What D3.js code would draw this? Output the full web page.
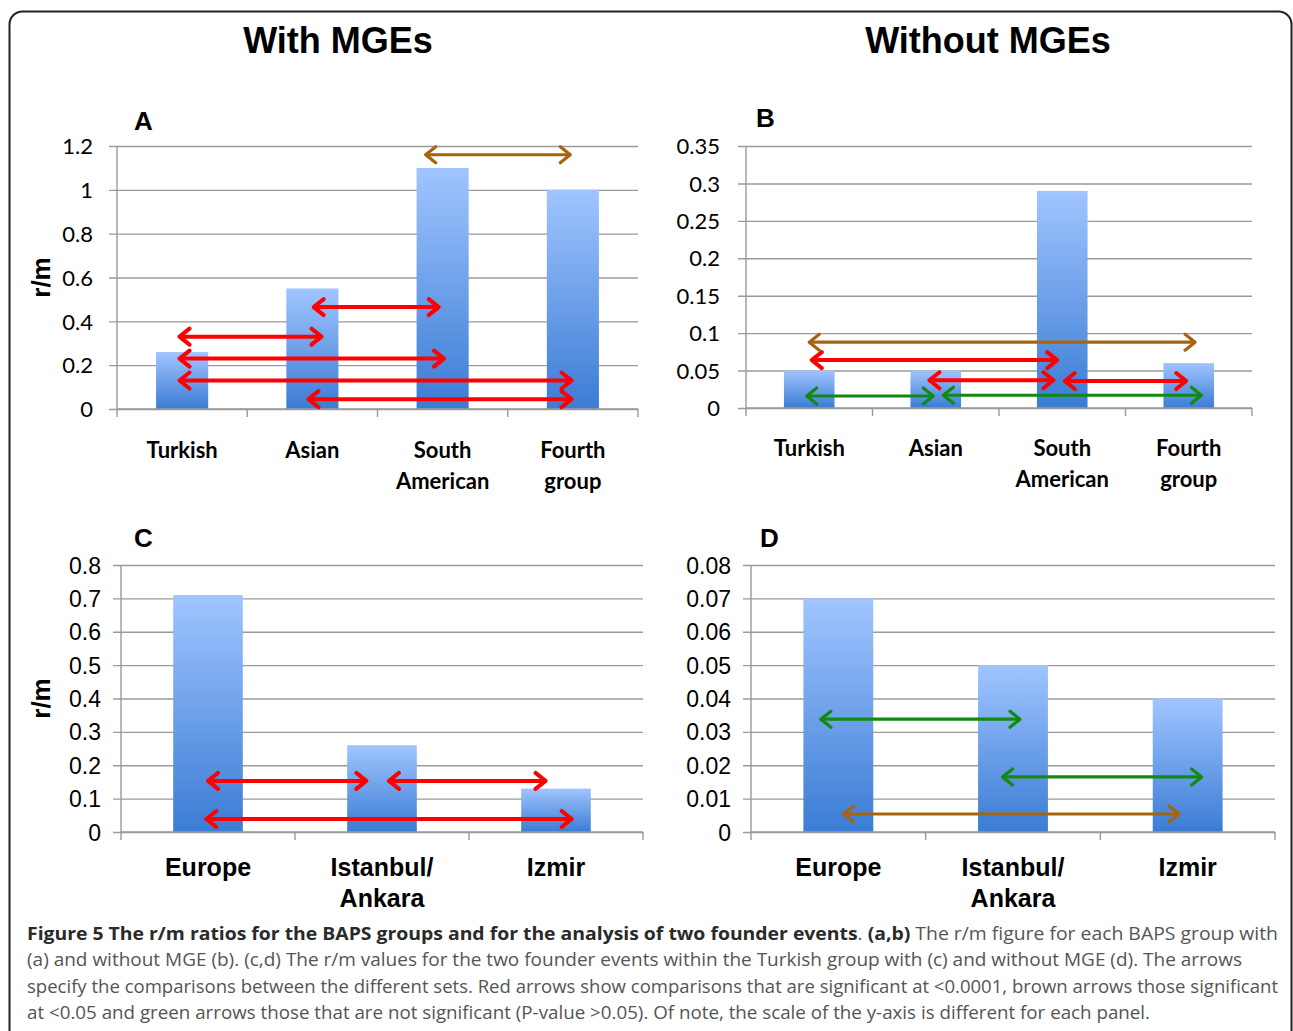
<!DOCTYPE html>
<html>
<head>
<meta charset="utf-8">
<script src="https://cdn.jsdelivr.net/npm/d3@7"></script>
<style>
  body { margin: 0; background: #fff; }
  svg { display: block; }
</style>
</head>
<body>
<script>
// ---- data ----
const groupsAB = ["Turkish", "Asian", "South American", "Fourth group"];
const labelsAB = [["Turkish"], ["Asian"], ["South", "American"], ["Fourth", "group"]];
const valuesA = [0.26, 0.55, 1.1, 1.0];
const valuesB = [0.05, 0.05, 0.29, 0.06];
const ticksA = [0, 0.2, 0.4, 0.6, 0.8, 1, 1.2];
const ticksB = [0, 0.05, 0.1, 0.15, 0.2, 0.25, 0.3, 0.35];

const groupsCD = ["Europe", "Istanbul/ Ankara", "Izmir"];
const labelsCD = [["Europe"], ["Istanbul/", "Ankara"], ["Izmir"]];
const valuesC = [0.71, 0.26, 0.13];
const valuesD = [0.07, 0.05, 0.04];
const ticksC = [0, 0.1, 0.2, 0.3, 0.4, 0.5, 0.6, 0.7, 0.8];
const ticksD = [0, 0.01, 0.02, 0.03, 0.04, 0.05, 0.06, 0.07, 0.08];

// comparison arrows: from/to in category units, level in r/m units
const arrowsA = [
  { from: 1.01, to: 1.97, level: 0.465, sig: "p<0.0001" },
  { from: -0.02, to: 1.07, level: 0.33, sig: "p<0.0001" },
  { from: -0.02, to: 2.01, level: 0.23, sig: "p<0.0001" },
  { from: -0.02, to: 2.99, level: 0.13, sig: "p<0.0001" },
  { from: 0.97, to: 2.99, level: 0.045, sig: "p<0.0001" },
  { from: 1.87, to: 2.98, level: 1.16, sig: "p<0.05" }
];
const arrowsB = [
  { from: 0, to: 3.05, level: 0.088, sig: "p<0.05" },
  { from: 0.02, to: 1.96, level: 0.064, sig: "p<0.0001" },
  { from: 0.95, to: 1.93, level: 0.037, sig: "p<0.0001" },
  { from: 2.02, to: 2.98, level: 0.036, sig: "p<0.0001" },
  { from: -0.02, to: 0.98, level: 0.016, sig: "ns" },
  { from: 1.06, to: 3.1, level: 0.017, sig: "ns" }
];
const arrowsC = [
  { from: 0, to: 0.91, level: 0.153, sig: "p<0.0001" },
  { from: 1.04, to: 1.94, level: 0.153, sig: "p<0.0001" },
  { from: -0.01, to: 2.09, level: 0.039, sig: "p<0.0001" }
];
const arrowsD = [
  { from: -0.1, to: 1.04, level: 0.0338, sig: "ns" },
  { from: 0.94, to: 2.08, level: 0.0165, sig: "ns" },
  { from: 0.03, to: 1.95, level: 0.0054, sig: "p<0.05" }
];

const sigColor = d3.scaleOrdinal()
  .domain(["p<0.0001", "p<0.05", "ns"])
  .range(["#ff0000", "#a5650f", "#128a12"]);

const W = 1293, H = 1031;
const svg = d3.select("body").append("svg")
  .attr("width", W).attr("height", H)
  .attr("viewBox", `0 0 ${W} ${H}`);

const defs = svg.append("defs");
const grad = defs.append("linearGradient")
  .attr("id", "barGrad").attr("x1", 0).attr("y1", 0).attr("x2", 0).attr("y2", 1);
grad.append("stop").attr("offset", "0%").attr("stop-color", "#a0c5ff");
grad.append("stop").attr("offset", "100%").attr("stop-color", "#3b7cd4");

// outer frame
svg.append("rect")
  .attr("x", 9.5).attr("y", 11.5)
  .attr("width", 1282).attr("height", 1050)
  .attr("rx", 13)
  .attr("fill", "none").attr("stroke", "#222").attr("stroke-width", 2);

// column titles
svg.append("text").attr("x", 338).attr("y", 53)
  .attr("text-anchor", "middle")
  .style("font", "bold 36px 'Liberation Sans', Arial, sans-serif")
  .text("With MGEs");
svg.append("text").attr("x", 988).attr("y", 53)
  .attr("text-anchor", "middle")
  .style("font", "bold 36px 'Liberation Sans', Arial, sans-serif")
  .text("Without MGEs");

function drawPanel(p) {
  const n = p.values.length;
  const y = d3.scaleLinear().domain(p.domain).range([p.y0, p.y1]);
  const band = d3.scaleBand().domain(d3.range(n)).range([p.x0, p.x1]).padding(0);
  const xc = d3.scaleLinear().domain([-0.5, n - 0.5]).range([p.x0, p.x1]);
  const g = svg.append("g");

  // gridlines + tick marks
  g.append("g")
    .attr("transform", `translate(${p.x0},0)`)
    .call(d3.axisLeft(y).tickValues(p.ticks).tickSize(-(p.x1 - p.x0)).tickSizeOuter(0)
      .tickFormat(d => String(+d.toFixed(4))))
    .call(a => a.select(".domain").remove())
    .call(a => a.selectAll(".tick line").attr("stroke", "#9a9a9a").attr("stroke-width", 1.4)
      .attr("x2", p.x1 - p.x0).attr("x1", -8))
    .call(a => a.selectAll(".tick text").attr("x", -p.labelGap).attr("dy", "0.35em")
      .attr("fill", "#000").style("font", p.tickFont));

  // vertical axis line
  g.append("line")
    .attr("x1", p.x0).attr("x2", p.x0).attr("y1", p.y1).attr("y2", p.y0)
    .attr("stroke", "#9a9a9a").attr("stroke-width", 1.4);

  // bars
  g.selectAll("rect.bar").data(p.values).join("rect")
    .attr("class", "bar")
    .attr("x", (d, i) => band(i) + band.bandwidth() * 0.3)
    .attr("width", band.bandwidth() * 0.4)
    .attr("y", d => y(d))
    .attr("height", d => y(0) - y(d))
    .attr("fill", "url(#barGrad)");

  // category axis
  const bottom = g.append("g").attr("transform", `translate(0,${p.y0})`);
  bottom.append("line").attr("x1", p.x0).attr("x2", p.x1)
    .attr("stroke", "#9a9a9a").attr("stroke-width", 1.4);
  bottom.selectAll("line.tk").data(d3.range(n + 1)).join("line")
    .attr("class", "tk")
    .attr("x1", i => xc(i - 0.5)).attr("x2", i => xc(i - 0.5))
    .attr("y1", 0).attr("y2", 8)
    .attr("stroke", "#9a9a9a").attr("stroke-width", 1.4);

  const lab = g.selectAll("text.cat").data(p.labels).join("text")
    .attr("class", "cat")
    .attr("text-anchor", "middle")
    .style("font", p.catFont);
  lab.selectAll("tspan").data((d, i) => d.map((s, k) => ({ s, i, k })))
    .join("tspan")
    .attr("x", o => xc(o.i))
    .attr("y", o => p.catY + o.k * p.catLine)
    .text(o => o.s);

  // arrows
  const head = 10, half = 8;
  const ar = g.selectAll("g.arrow").data(p.arrows).join("g")
    .attr("class", "arrow")
    .attr("stroke", d => sigColor(d.sig))
    .attr("stroke-width", d => d.sig === "p<0.0001" ? 4 : 3.2)
    .attr("fill", "none")
    .attr("stroke-linecap", "round").attr("stroke-linejoin", "round");
  ar.append("line")
    .attr("x1", d => xc(d.from) + 1).attr("x2", d => xc(d.to) - 1)
    .attr("y1", d => y(d.level)).attr("y2", d => y(d.level));
  ar.append("path")
    .attr("d", d => {
      const a = xc(d.from), b = xc(d.to), yy = y(d.level);
      return `M${a + head},${yy - half}L${a},${yy}L${a + head},${yy + half}` +
             `M${b - head},${yy - half}L${b},${yy}L${b - head},${yy + half}`;
    });

  // panel letter
  g.append("text").attr("x", p.letterX).attr("y", p.letterY)
    .style("font", "bold 26px 'Liberation Sans', Arial, sans-serif")
    .text(p.letter);

  if (p.yLabel) {
    g.append("text")
      .attr("transform", `translate(${p.yLabelX},${(p.y0 + p.y1) / 2}) rotate(-90)`)
      .attr("text-anchor", "middle").attr("dy", "0.35em")
      .style("font", "bold 26px 'Liberation Sans', Arial, sans-serif")
      .text("r/m");
  }
}

const fontAB = "22px Lato, 'Open Sans', sans-serif";
const catAB = "bold 22px Lato, 'Open Sans', sans-serif";
const fontCD = "23px 'Liberation Sans', Arial, sans-serif";
const catCD = "bold 25px 'Liberation Sans', Arial, sans-serif";

drawPanel({
  values: valuesA, labels: labelsAB, ticks: ticksA, arrows: arrowsA, domain: [0, 1.2],
  x0: 117, x1: 638, y0: 409, y1: 146, labelGap: 24,
  tickFont: fontAB, catFont: catAB, catY: 458, catLine: 31,
  letter: "A", letterX: 134, letterY: 130, yLabel: true, yLabelX: 41
});
drawPanel({
  values: valuesB, labels: labelsAB, ticks: ticksB, arrows: arrowsB, domain: [0, 0.35],
  x0: 746, x1: 1252, y0: 408, y1: 146, labelGap: 26,
  tickFont: fontAB, catFont: catAB, catY: 456, catLine: 31,
  letter: "B", letterX: 756, letterY: 127, yLabel: false
});
drawPanel({
  values: valuesC, labels: labelsCD, ticks: ticksC, arrows: arrowsC, domain: [0, 0.8],
  x0: 121, x1: 643, y0: 832, y1: 565, labelGap: 20,
  tickFont: fontCD, catFont: catCD, catY: 876, catLine: 31,
  letter: "C", letterX: 134, letterY: 547, yLabel: true, yLabelX: 41
});
drawPanel({
  values: valuesD, labels: labelsCD, ticks: ticksD, arrows: arrowsD, domain: [0, 0.08],
  x0: 751, x1: 1275, y0: 832, y1: 565, labelGap: 20,
  tickFont: fontCD, catFont: catCD, catY: 876, catLine: 31,
  letter: "D", letterX: 760, letterY: 547, yLabel: false
});

// caption
const captionLines = [
  [["b", "Figure 5 The r/m ratios for the BAPS groups and for the analysis of two founder events"], ["r", ". "], ["b", "(a,b)"], ["r", " The r/m figure for each BAPS group with"]],
  [["r", "(a) and without MGE (b). (c,d) The r/m values for the two founder events within the Turkish group with (c) and without MGE (d). The arrows"]],
  [["r", "specify the comparisons between the different sets. Red arrows show comparisons that are significant at <0.0001, brown arrows those significant"]],
  [["r", "at <0.05 and green arrows those that are not significant (P-value >0.05). Of note, the scale of the y-axis is different for each panel."]]
];
const captionWidths = [1251, 1215, 1251, 1123];
const cap = svg.append("g").style("font", "18px 'Open Sans', sans-serif");
captionLines.forEach((line, i) => {
  const t = cap.append("text")
    .attr("x", 27).attr("y", 940 + i * 26.3)
    .attr("textLength", captionWidths[i])
    .attr("lengthAdjust", "spacingAndGlyphs");
  line.forEach(([kind, s]) => {
    t.append("tspan")
      .attr("font-weight", kind === "b" ? "bold" : "normal")
      .attr("fill", kind === "b" ? "#2a2a2a" : "#555")
      .text(s);
  });
});
</script>
</body>
</html>
